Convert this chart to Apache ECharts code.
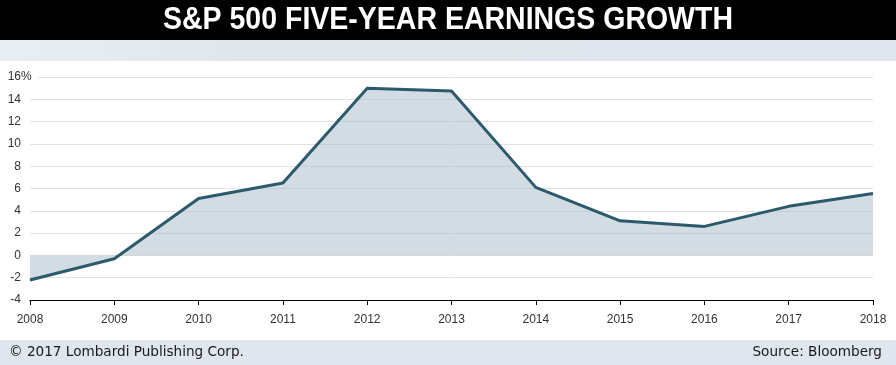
<!DOCTYPE html>
<html><head><meta charset="utf-8">
<script src="https://cdn.jsdelivr.net/npm/echarts@6/dist/echarts.min.js"></script>
<style>html,body{margin:0;padding:0;background:#fff}#c{width:896px;height:365px}</style>
</head><body><div id="c"></div>
<script>
const titleText = 'S&P 500 FIVE-YEAR EARNINGS GROWTH';
const years = ['2008','2009','2010','2011','2012','2013','2014','2015','2016','2017','2018'];
const growth = [-2.2, -0.3, 5.1, 6.5, 15.0, 14.75, 6.1, 3.1, 2.6, 4.4, 5.55];
const footerLeft = '© 2017 Lombardi Publishing Corp.';
const footerRight = 'Source: Bloomberg';

const titleFont = 'bold 31px "Liberation Sans", Arial, sans-serif';
const cv = document.createElement('canvas').getContext('2d');
cv.font = titleFont;
const tw = cv.measureText(titleText).width;
const sx = 570 / tw;

const chart = echarts.init(document.getElementById('c'), null, {renderer:'canvas'});
chart.setOption({
  animation:false,
  backgroundColor:'#fff',
  grid:{left:30,right:23,top:77,bottom:65},
  xAxis:{type:'category',data:years,boundaryGap:false,
    axisLine:{onZero:false,lineStyle:{color:'#000',width:1}},
    axisTick:{length:5,lineStyle:{color:'#000'}},
    axisLabel:{color:'#333',fontFamily:'"Liberation Sans",Arial',fontSize:12,margin:14},
    splitLine:{show:false}},
  yAxis:{type:'value',min:-4,max:16,interval:2,
    axisLine:{show:false},axisTick:{show:false},
    axisLabel:{color:'#333',fontFamily:'"Liberation Sans",Arial',fontSize:12,margin:9,align:'right'},
    splitLine:{lineStyle:{color:'#e2e2e2',width:1}}},
  series:[{type:'line',data:growth,symbol:'none',
    lineStyle:{color:'#2b5a6c',width:3},
    areaStyle:{color:'rgb(167,185,197)',opacity:0.5,origin:0},
    z:3}]
});
const yTop = chart.convertToPixel({yAxisIndex:0}, 16);
chart.setOption({
  graphic:[
    {type:'rect',z:-10,shape:{x:0,y:0,width:896,height:40},style:{fill:'#000'}},
    {type:'text',z:10,x:448,y:20,scaleX:sx,scaleY:1,
      style:{text:titleText,fill:'#fff',font:titleFont,align:'center',verticalAlign:'middle'}},
    {type:'rect',z:-10,shape:{x:0,y:40,width:896,height:21},style:{fill:new echarts.graphic.LinearGradient(0,0,1,0,[{offset:0,color:'#e9eef2'},{offset:0.3,color:'#dfe6ec'},{offset:1,color:'#dfe6ee'}])}},
    {type:'rect',z:-10,shape:{x:0,y:340,width:896,height:25},style:{fill:'#dfe6ee'}},
    {type:'rect',z:1,shape:{x:30,y:yTop-1,width:8,height:2},style:{fill:'#fff'}},
    {type:'text',z:10,x:21,y:yTop,style:{text:'%',fill:'#333',font:'12px "Liberation Sans", Arial',align:'left',verticalAlign:'middle'}},
    {type:'text',left:9,top:345,style:{text:footerLeft,fill:'#1a1a1a',font:'13.6px "DejaVu Sans", sans-serif'}},
    {type:'text',right:14,top:345,style:{text:footerRight,fill:'#1a1a1a',font:'13.6px "DejaVu Sans", sans-serif'}}
  ]
});
</script></body></html>
